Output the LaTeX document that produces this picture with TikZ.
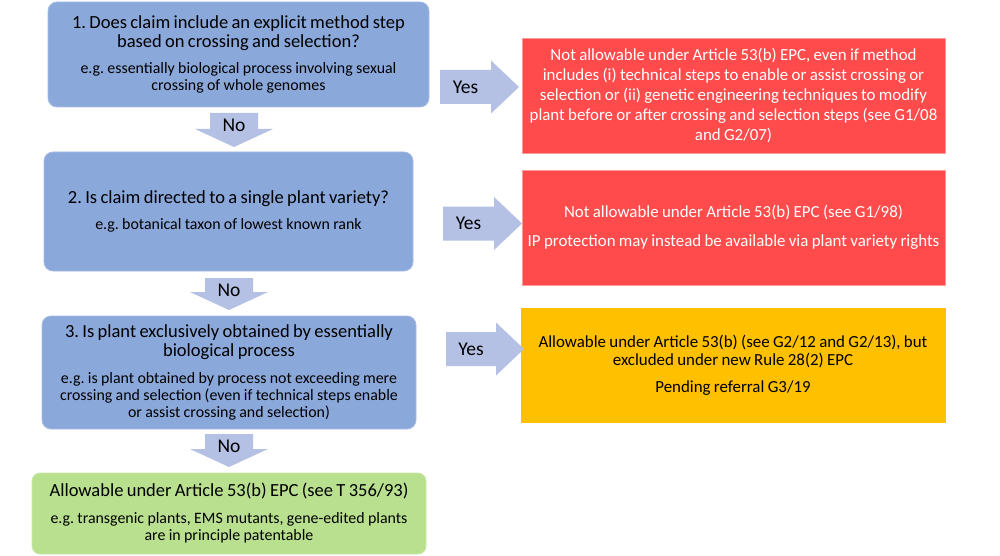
\documentclass[tikz,border=0pt]{standalone}
\usepackage{fontspec}
\setmainfont{Carlito}
\frenchspacing
\definecolor{bluefill}{HTML}{8BA8DB}
\definecolor{blueline}{HTML}{A7BCE4}
\definecolor{arrowfill}{HTML}{B4C0E4}
\definecolor{redfill}{HTML}{FF4B4B}
\definecolor{redline}{HTML}{FF9A9A}
\definecolor{orangefill}{HTML}{FFC000}
\definecolor{greenfill}{HTML}{B9E08F}
\definecolor{greenline}{HTML}{C9E8A8}
\newcommand\mainf{\fontsize{18.5}{19.5}\selectfont}
\newcommand\subf{\fontsize{15.9}{17}\selectfont}
\newcommand\redf{\fontsize{16.9}{20}\selectfont}
\newcommand\orf{\fontsize{16.9}{18.3}\selectfont}
\newcommand\arrf{\fontsize{19.5}{20}\selectfont}
% right-pointing block arrow: name, left x, tip x, centre y, text
\newcommand\YesArrow[5]{%
  \fill[arrowfill] ({#2},{#4-17}) -- ({#3-28},{#4-17}) -- ({#3-28},{#4-26.5}) -- ({#3},{#4})
    -- ({#3-28},{#4+26.5}) -- ({#3-28},{#4+17}) -- ({#2},{#4+17}) -- cycle;
  \node[arrowtext] (#1) at ({(#2+#3-28)/2},{#4}) {#5};}
% down-pointing block arrow: name, centre x, top y, tip y, text
\newcommand\NoArrow[5]{%
  \fill[arrowfill] ({#2-24},{#3}) -- ({#2+24},{#3}) -- ({#2+24},{#4-18}) -- ({#2+39},{#4-18})
    -- ({#2},{#4}) -- ({#2-39},{#4-18}) -- ({#2-24},{#4-18}) -- cycle;
  \node[arrowtext] (#1) at ({#2},{#3+12}) {#5};}
\begin{document}
\begin{tikzpicture}[x=1pt,y=-1pt,
  box/.style={rectangle, align=center, inner xsep=2pt, inner ysep=0pt, line width=0.8pt},
  qbox/.style={box, fill=bluefill, draw=blueline, rounded corners=9pt, text=black},
  rbox/.style={box, fill=redfill, draw=redline, text=white},
  obox/.style={box, fill=orangefill, draw=orangefill, text=black},
  gbox/.style={box, fill=greenfill, draw=greenline, rounded corners=8pt, text=black},
  arrowtext/.style={inner sep=0pt, font=\arrf, text=black}]
\useasboundingbox (0,0) rectangle (1000,556);

\node[qbox, text width=377pt, minimum height=105pt] (q1) at (238.5,54.5)
  {\mainf 1. Does claim include an explicit method step\\ based on crossing and selection?\par
   \vspace{9pt}\subf e.g. essentially biological process involving sexual\\ crossing of whole genomes\par};

\node[qbox, text width=365pt, minimum height=119pt] (q2) at (228.5,211.5)
  {\mainf 2. Is claim directed to a single plant variety?\par
   \vspace{9pt}\subf e.g. botanical taxon of lowest known rank\par};

\node[qbox, text width=370pt, minimum height=113pt] (q3) at (229,372.5)
  {\mainf 3. Is plant exclusively obtained by essentially\\ biological process\par
   \vspace{10pt}\subf e.g. is plant obtained by process not exceeding mere\\ crossing and selection (even if technical steps enable\\ or assist crossing and selection)\par};

\node[gbox, text width=390pt, minimum height=81pt] (ok) at (229,513.5)
  {\mainf Allowable under Article 53(b) EPC (see T 356/93)\par
   \vspace{10pt}\subf e.g. transgenic plants, EMS mutants, gene-edited plants\\ are in principle patentable\par};

\node[rbox, text width=419pt, minimum height=115pt] (r1) at (733.5,95.5)
  {\redf Not allowable under Article 53(b) EPC, even if method\\ includes (i) technical steps to enable or assist crossing or\\ selection or (ii) genetic engineering techniques to modify\\ plant before or after crossing and selection steps (see G1/08\\ and G2/07)\par};

\node[rbox, text width=419pt, minimum height=115pt] (r2) at (733.5,227.5)
  {\redf Not allowable under Article 53(b) EPC (see G1/98)\par
   \vspace{9pt}IP protection may instead be available via plant variety rights\par};

\node[obox, text width=420pt, minimum height=114pt] (r3) at (733,365)
  {\orf Allowable under Article 53(b) (see G2/12 and G2/13), but\\ excluded under new Rule 28(2) EPC\par
   \vspace{8.7pt}Pending referral G3/19\par};

\YesArrow{y1}{440}{519}{87}{Yes}
\YesArrow{y2}{443}{522}{223.5}{Yes}
\YesArrow{y3}{446}{524}{349}{Yes}
\NoArrow{n1}{234}{113}{147}{No}
\NoArrow{n2}{229}{278}{310}{No}
\NoArrow{n3}{229}{434}{467}{No}
\end{tikzpicture}
\end{document}
